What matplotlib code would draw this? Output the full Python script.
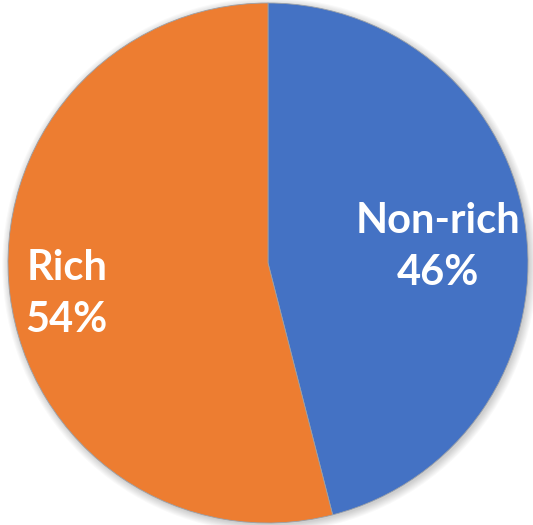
import numpy as np
import matplotlib.pyplot as plt
from matplotlib.patches import Circle

labels = ['Non-rich', 'Rich']
shares = [46, 54]
colors = ['#4472C4', '#ED7D31']
label_dist = [0.66, 0.78]

fig = plt.figure(figsize=(5.33, 5.25), dpi=100)
ax = fig.add_axes([0, 0, 1, 1])

# soft shadow round the pie
for k in range(8):
    ax.add_patch(Circle((0.006, -0.008), 1.0 + 0.004 * k, color='black',
                        alpha=0.025, lw=0, zorder=0))

wedges, _ = ax.pie(shares, colors=colors, startangle=90, counterclock=False,
                   radius=1.0, wedgeprops=dict(linewidth=0.6, edgecolor='#9aa0a8'))
for w in wedges:
    w.set_zorder(2)

# labels at each wedge's middle angle
start = 90.0
for lab, val, d in zip(labels, shares, label_dist):
    mid = start - val / sum(shares) * 360 / 2
    start -= val / sum(shares) * 360
    x = d * np.cos(np.radians(mid))
    y = d * np.sin(np.radians(mid)) - 0.02
    ax.text(x, y, f'{lab}\n{val}%', ha='center', va='center', color='white',
            fontsize=30, fontweight='bold', family='Lato', linespacing=1.45,
            zorder=3)

ax.set_xlim(-268 / 260, (533 - 268) / 260)
ax.set_ylim(-(525 - 263) / 260, 263 / 260)
ax.set_aspect('auto')
ax.axis('off')

fig.savefig('out.png', dpi=100)
